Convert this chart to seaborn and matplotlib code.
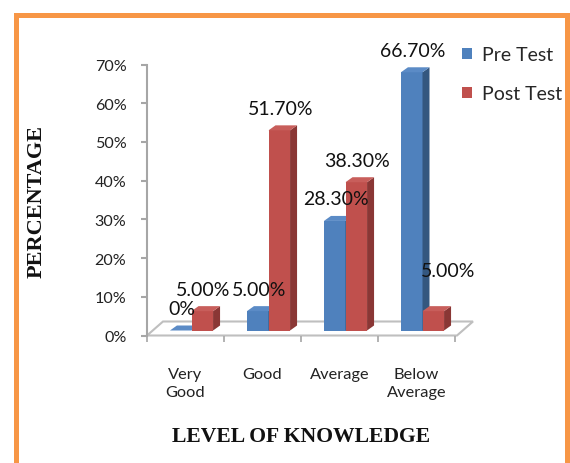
import matplotlib
matplotlib.use("Agg")
import matplotlib.pyplot as plt
import matplotlib.transforms as mtransforms
from matplotlib.patches import Polygon, Rectangle
import seaborn as sns
import pandas as pd

# ---------------- data ----------------
categories = ["Very\nGood", "Good", "Average", "Below\nAverage"]
series_names = ["Pre Test", "Post Test"]
pre_test = [0.0, 5.0, 28.3, 66.7]
post_test = [5.0, 51.7, 38.3, 5.0]
ytick_values = [0, 10, 20, 30, 40, 50, 60, 70]
ytick_labels = ["0%", "10%", "20%", "30%", "40%", "50%", "60%", "70%"]

# ---------------- style ----------------
sns.set_style("white")
plt.rcParams["font.family"] = ["Lato", "DejaVu Sans"]
FRONT = ["#4F81BD", "#C0504D"]
SIDE = ["#34577F", "#8A3735"]
TOP = ["#5B8BC6", "#C85E5B"]
GRAY = "#A6A6A6"
W, H = 570, 464
DX, DY = 7, 5  # bar depth in pixels

fig = plt.figure(figsize=(W / 100, H / 100), dpi=100)


def px_axes(x0, ytop, w, h):
    return fig.add_axes([x0 / W, (H - ytop - h) / H, w / W, h / H])


ax_t = px_axes(147, 65.5, 308, 271)   # axis / floor
ax = px_axes(153, 60.5, 308, 271)     # bars (mid-depth)
ax.set_zorder(2)
ax_t.set_zorder(1)
for a in (ax, ax_t):
    a.patch.set_alpha(0)

df = pd.DataFrame({
    "Level": categories * 2,
    "Test": [series_names[0]] * len(categories) + [series_names[1]] * len(categories),
    "Value": pre_test + post_test,
})
sns.barplot(data=df, x="Level", y="Value", hue="Test", palette=FRONT,
            width=0.56, gap=0, saturation=1, ax=ax, linewidth=0, errorbar=None)
handles, labels = ax.get_legend_handles_labels()
if ax.get_legend() is not None:
    ax.get_legend().remove()

for a in (ax, ax_t):
    a.set_xlim(-0.5, len(categories) - 0.5)
    a.set_ylim(0, 70)
ax.axis("off")

# tick axis
for s in ["top", "right", "bottom"]:
    ax_t.spines[s].set_visible(False)
ax_t.spines["left"].set_color(GRAY)
ax_t.spines["left"].set_linewidth(1.5)
ax_t.set_yticks(ytick_values)
ax_t.set_yticklabels(ytick_labels, fontsize=11.6, color="#222222")
ax_t.tick_params(axis="y", length=4.3, width=1.5, color=GRAY, pad=10.5, left=True)
ax_t.set_xticks([i - 0.5 for i in range(len(categories) + 1)])
ax_t.set_xticklabels([])
ax_t.tick_params(axis="x", which="major", length=4.5, width=1.2, color=GRAY, bottom=True)
ax_t.set_xticks(range(len(categories)), minor=True)
ax_t.set_xticklabels(categories, minor=True, fontsize=11.8, color="#222222",
                     linespacing=1.4, va="top")
ax_t.tick_params(axis="x", which="minor", length=0, pad=22.5)
ax_t.set_xlabel("")
ax_t.set_ylabel("")
ax.set_xlabel("")
ax.set_ylabel("")

fig.canvas.draw()
ident = mtransforms.IdentityTransform()

# floor
fl = ax_t.transData.transform((-0.5, 0))
fr = ax_t.transData.transform((len(categories) - 0.5, 0))
fr = (fr[0] + 2, fr[1])
floor = Polygon([fl, fr, (fr[0] + 16, fr[1] + 14), (fl[0] + 16, fl[1] + 14)],
                closed=True, facecolor="white", edgecolor="#BFBFBF", lw=1.5,
                transform=ident, clip_on=False, zorder=0.5)
ax_t.add_artist(floor)

# 3D faces for bars
for hi, cont in enumerate(ax.containers):
    for bar in cont:
        bx, bw, bh = bar.get_x(), bar.get_width(), bar.get_height()
        x0, y0 = ax.transData.transform((bx, 0))
        x1, y1 = ax.transData.transform((bx + bw, bh))
        z = 2 + hi * 2
        bar.set_zorder(z if hi else 1.5)
        side = Polygon([(x1, y0), (x1 + DX, y0 + DY), (x1 + DX, y1 + DY), (x1, y1)],
                       closed=True, facecolor=SIDE[hi], lw=0, transform=ident,
                       clip_on=False, zorder=z + 0.5 if hi else 1.7)
        top = Polygon([(x0, y1), (x1, y1), (x1 + DX, y1 + DY), (x0 + DX, y1 + DY)],
                      closed=True, facecolor=TOP[hi], lw=0, transform=ident,
                      clip_on=False, zorder=z + 0.5 if hi else 1.7)
        ax.add_artist(side)
        ax.add_artist(top)

# data labels
label_nudge = {(1, 3): (14, 19)}
for hi, cont in enumerate(ax.containers):
    for ci, bar in enumerate(cont):
        v = bar.get_height()
        txt = "0%" if v == 0 else f"{v:.2f}%"
        nx, ny = label_nudge.get((hi, ci), (0, 0))
        ax.annotate(txt, xy=(bar.get_x() + bar.get_width() / 2, v),
                    xytext=(1 + nx, 22 + ny), textcoords="offset pixels",
                    ha="center", va="center", fontsize=14, color="#111111",
                    zorder=10, annotation_clip=False)

# legend
fig.legend(handles, labels, loc="upper left", bbox_to_anchor=(462 / W, 1 - 47 / H),
           frameon=False, fontsize=14, handlelength=0.5, handleheight=0.5,
           handletextpad=0.55, labelspacing=1.15, borderpad=0, borderaxespad=0)

# axis titles
fig.text(37 / W, 1 - 202 / H, "PERCENTAGE", rotation=90, ha="center", va="center",
         family="Liberation Serif", weight="bold", fontsize=16, color="#111111")
fig.text(301 / W, 1 - 437 / H, "LEVEL OF KNOWLEDGE", ha="center", va="center",
         family="Liberation Serif", weight="bold", fontsize=15.6, color="#111111")

# orange frame
fig.add_artist(Rectangle((15.5 / W, -10 / H), (567 - 15.5) / W, (H - 15.5 + 10) / H,
                         fill=False, edgecolor="#F79646", lw=3.6,
                         transform=fig.transFigure, clip_on=False))

fig.savefig("out.png", dpi=100)
